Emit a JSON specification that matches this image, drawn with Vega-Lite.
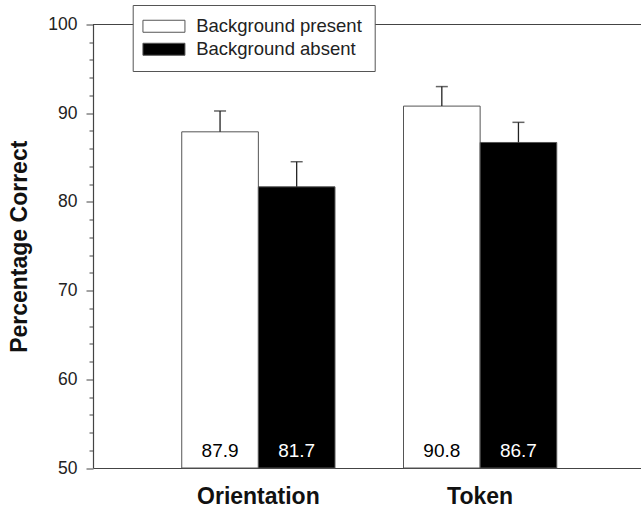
{
  "$schema": "https://vega.github.io/schema/vega-lite/v6.json",
  "autosize": "none",
  "width": 548,
  "height": 443.5,
  "padding": {"left": 93, "top": 24.5, "right": 0, "bottom": 40},
  "background": "white",
  "config": {
    "view": {"stroke": null},
    "font": "Liberation Sans"
  },
  "data": {
    "values": [
      {"task": "Orientation", "condition": "Background present", "value": 87.9, "err": 2.35, "label": "87.9"},
      {"task": "Orientation", "condition": "Background absent", "value": 81.7, "err": 2.83, "label": "81.7"},
      {"task": "Token", "condition": "Background present", "value": 90.8, "err": 2.2, "label": "90.8"},
      {"task": "Token", "condition": "Background absent", "value": 86.7, "err": 2.27, "label": "86.7"}
    ]
  },
  "encoding": {
    "x": {
      "field": "task",
      "type": "nominal",
      "sort": ["Orientation", "Token"],
      "scale": {"paddingInner": 0.309, "paddingOuter": 0.39, "align": 0.513},
      "axis": {
        "title": null,
        "ticks": false,
        "labelAngle": 0,
        "labelFontSize": 23,
        "labelFontWeight": "bold",
        "labelColor": "#111",
        "labelPadding": 17,
        "domainColor": "#444",
        "domainWidth": 1.2
      }
    },
    "xOffset": {
      "field": "condition",
      "type": "nominal",
      "sort": ["Background present", "Background absent"],
      "scale": {"paddingInner": 0, "paddingOuter": 0}
    }
  },
  "resolve": {"axis": {"y": "independent"}},
  "layer": [
    {
      "mark": {"type": "rule", "color": "#444", "strokeWidth": 1.2},
      "encoding": {
        "x": null,
        "xOffset": null,
        "y": {
          "datum": 100,
          "type": "quantitative",
          "scale": {"domain": [50, 100], "nice": false, "zero": false},
          "axis": {
            "orient": "left",
            "title": null,
            "labels": false,
            "domain": false,
            "grid": false,
            "values": [52, 54, 56, 58, 62, 64, 66, 68, 72, 74, 76, 78, 82, 84, 86, 88, 92, 94, 96, 98],
            "tickSize": 4,
            "tickColor": "#444",
            "tickWidth": 1
          }
        }
      }
    },
    {
      "mark": {"type": "bar", "stroke": "#555", "strokeWidth": 1},
      "encoding": {
        "y": {
          "field": "value",
          "type": "quantitative",
          "scale": {"domain": [50, 100], "nice": false, "zero": false},
          "axis": {
            "orient": "left",
            "title": "Percentage Correct",
            "titleFontSize": 23,
            "titleFontWeight": "bold",
            "titleColor": "#111",
            "titlePadding": 16,
            "values": [50, 60, 70, 80, 90, 100],
            "labelOverlap": false,
            "tickSize": 7,
            "labelPadding": 9,
            "labelFontSize": 17.5,
            "labelColor": "#222",
            "tickColor": "#444",
            "domainColor": "#444",
            "domainWidth": 1.2,
            "grid": false
          }
        },
        "y2": {"datum": 50},
        "fill": {
          "field": "condition",
          "type": "nominal",
          "sort": ["Background present", "Background absent"],
          "scale": {"domain": ["Background present", "Background absent"], "range": ["white", "black"]},
          "legend": {
            "title": null,
            "orient": "none",
            "legendX": 39.7,
            "legendY": -19.5,
            "symbolType": "M-3.5,-1H3.5V1H-3.5Z",
            "symbolSize": 144,
            "symbolOffset": 10,
            "symbolStrokeColor": "#555",
            "symbolStrokeWidth": 1,
            "labelFontSize": 18.5,
            "labelColor": "#222",
            "labelOffset": 23,
            "labelLimit": 400,
            "rowPadding": 4,
            "padding": 12,
            "strokeColor": "#555",
            "fillColor": "white"
          }
        }
      }
    },
    {
      "mark": {"type": "rule", "color": "#222", "strokeWidth": 1.3},
      "encoding": {
        "y": {"field": "value", "type": "quantitative", "axis": null},
        "y2": {"field": "hi"}
      },
      "transform": [{"calculate": "datum.value + datum.err", "as": "hi"}]
    },
    {
      "mark": {"type": "tick", "color": "#222", "size": 12, "thickness": 1.5},
      "transform": [{"calculate": "datum.value + datum.err", "as": "hi"}],
      "encoding": {
        "y": {"field": "hi", "type": "quantitative", "axis": null}
      }
    },
    {
      "mark": {"type": "text", "fontSize": 19, "baseline": "alphabetic", "dy": -11},
      "encoding": {
        "y": {"datum": 50, "type": "quantitative", "axis": null},
        "text": {"field": "label"},
        "color": {
          "condition": {"test": "datum.condition === 'Background absent'", "value": "white"},
          "value": "black"
        }
      }
    }
  ]
}
